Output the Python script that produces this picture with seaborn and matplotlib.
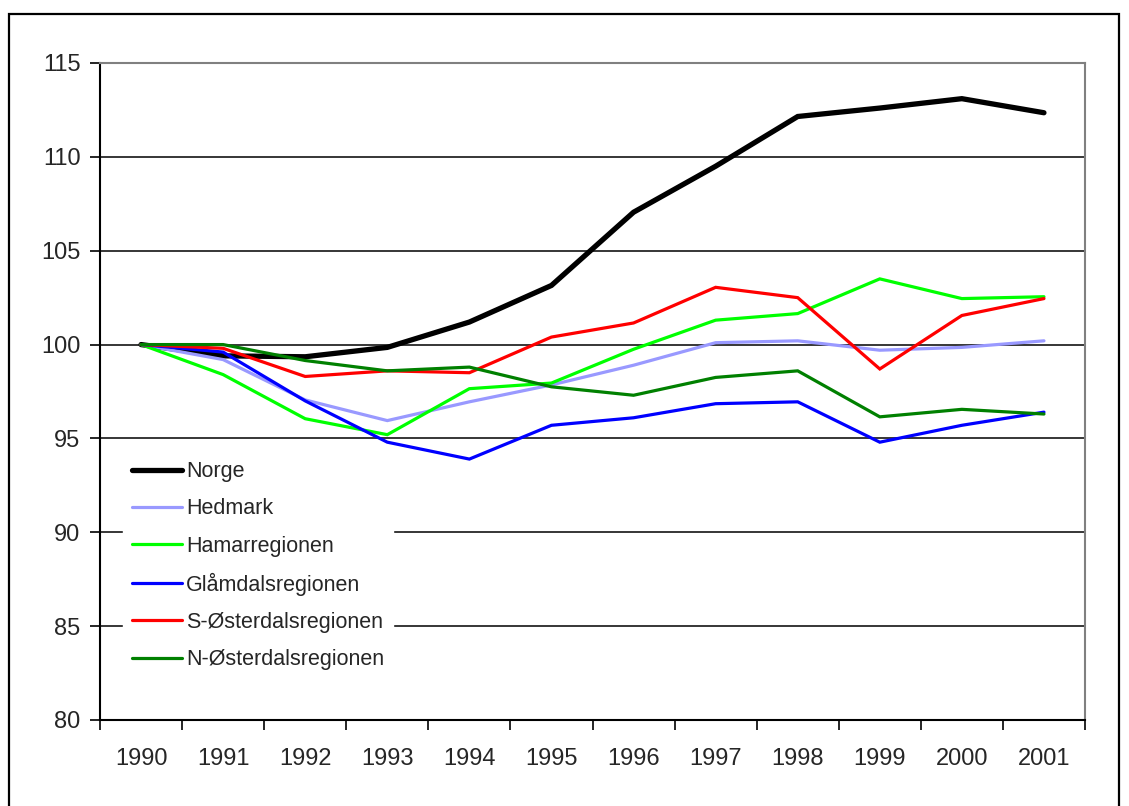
import numpy as np
import pandas as pd
import matplotlib.pyplot as plt
import seaborn as sns
from matplotlib.patches import Rectangle

# data (index 1990 = 100)
years = ['1990', '1991', '1992', '1993', '1994', '1995', '1996', '1997', '1998', '1999', '2000', '2001']
norge = [100, 99.4, 99.35, 99.85, 101.2, 103.15, 107.05, 109.5, 112.15, 112.6, 113.1, 112.35]
hedmark = [100, 99.2, 97.05, 95.95, 96.95, 97.85, 98.9, 100.1, 100.2, 99.7, 99.85, 100.2]
hamar = [100, 98.4, 96.05, 95.2, 97.65, 97.95, 99.75, 101.3, 101.65, 103.5, 102.45, 102.55]
glamdal = [100, 99.6, 97.0, 94.8, 93.9, 95.7, 96.1, 96.85, 96.95, 94.8, 95.7, 96.4]
s_oster = [100, 99.8, 98.3, 98.6, 98.5, 100.4, 101.15, 103.05, 102.5, 98.7, 101.55, 102.45]
n_oster = [100, 100.0, 99.15, 98.6, 98.8, 97.75, 97.3, 98.25, 98.6, 96.15, 96.55, 96.3]

series_names = ['Norge', 'Hedmark', 'Hamarregionen', 'Glåmdalsregionen',
                'S-Østerdalsregionen', 'N-Østerdalsregionen']
series_values = [norge, hedmark, hamar, glamdal, s_oster, n_oster]
colors = ['#000000', '#9999FF', '#00FF00', '#0000FF', '#FF0000', '#008000']
widths = [3.8, 2.3, 2.3, 2.3, 2.3, 2.3]

rows = []
for name, vals in zip(series_names, series_values):
    for i, v in enumerate(vals):
        rows.append({'pos': i, 'serie': name, 'verdi': v})
df = pd.DataFrame(rows)

sns.set_style("white")
plt.rcParams['font.family'] = ['Liberation Sans', 'DejaVu Sans']

fig = plt.figure(figsize=(11.29, 8.06), dpi=100)
ax = fig.add_axes([100 / 1129, 1 - 720 / 806, 985 / 1129, 657 / 806])

sns.lineplot(data=df, x='pos', y='verdi', hue='serie', hue_order=series_names,
             palette=dict(zip(series_names, colors)), ax=ax, legend=False)
for line, lw in zip(ax.get_lines(), widths):
    line.set_linewidth(lw)
    line.set_solid_joinstyle('miter')
    line.set_solid_capstyle('round')

ax.set_xlim(-0.5, len(years) - 0.5)
ax.set_ylim(80, 115)
ax.set_yticks(np.arange(80, 116, 5))
ax.set_xticks(range(len(years)))
ax.set_xticklabels(years)
ax.set_xticks(np.arange(-0.5, len(years), 1), minor=True)
ax.tick_params(axis='x', which='major', length=0, pad=20, labelsize=17)
ax.tick_params(axis='x', which='minor', length=7, width=1.2, color='black', direction='out', bottom=True)
ax.tick_params(axis='y', length=7, width=1.2, color='black', direction='out', left=True, pad=7, labelsize=17)
ax.set_xlabel('')
ax.set_ylabel('')

ax.yaxis.grid(True, color='black', linewidth=1.1)
ax.set_axisbelow(True)
for side in ['left', 'bottom']:
    ax.spines[side].set_color('black')
    ax.spines[side].set_linewidth(1.5)
for side in ['top', 'right']:
    ax.spines[side].set_color('#808080')
    ax.spines[side].set_linewidth(1.5)

handles = [plt.Line2D([], [], color=c, lw=lw) for c, lw in zip(colors, widths)]
leg = ax.legend(handles, series_names, loc='upper left', bbox_to_anchor=(0.0238, 0.407),
                frameon=True, fancybox=False, edgecolor='white', framealpha=1,
                fontsize=15.5, handlelength=2.3, handletextpad=0.2, labelspacing=0.75,
                borderpad=0.4, borderaxespad=0)

# outer chart frame
fig.patches.append(Rectangle((9 / 1129, -0.01), 1110 / 1129, 1 - 14 / 806 + 0.01,
                             transform=fig.transFigure, fill=False,
                             edgecolor='black', linewidth=1.6))

fig.savefig('out.png', dpi=100)
